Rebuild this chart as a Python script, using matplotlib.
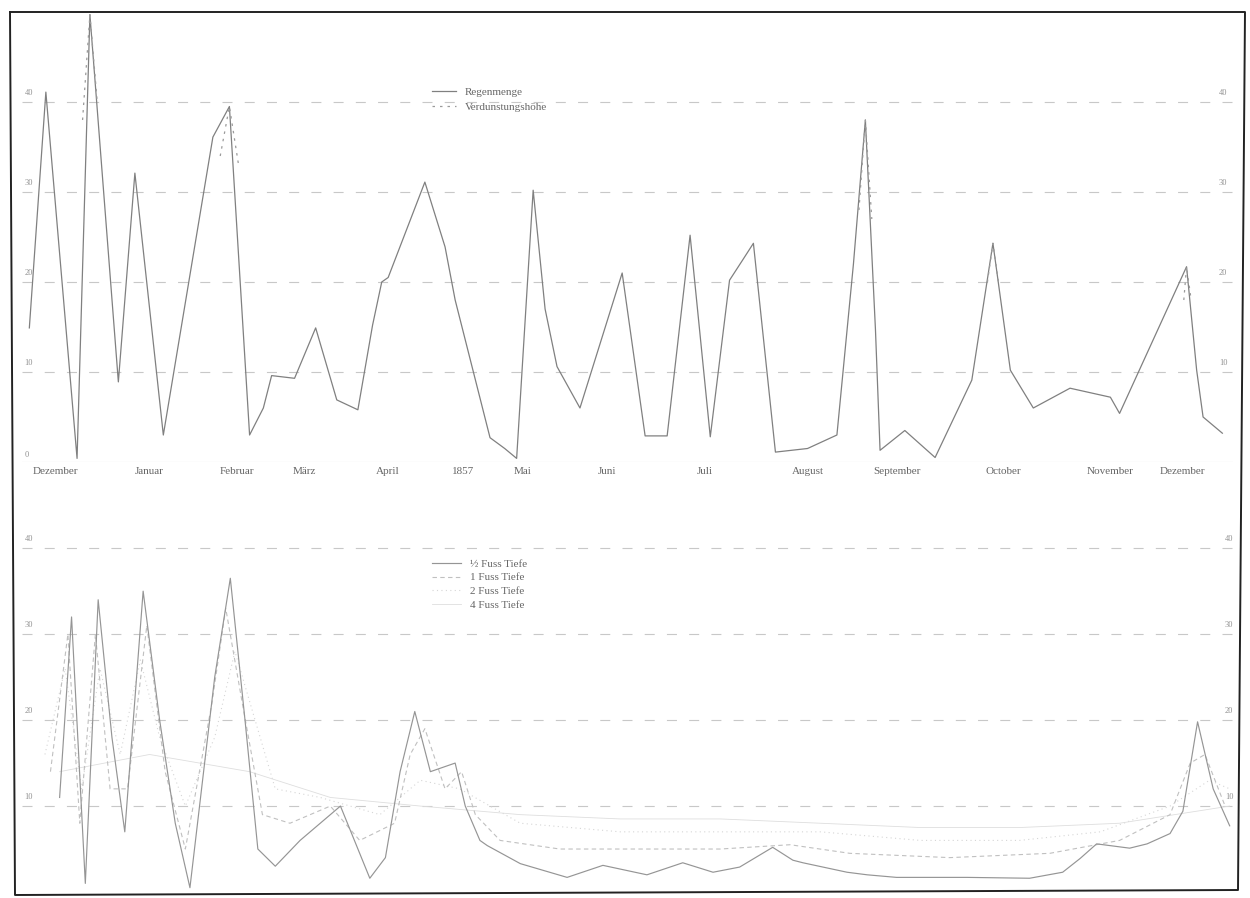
import matplotlib
matplotlib.use("Agg")
import matplotlib.pyplot as plt
from matplotlib.lines import Line2D

plt.rcParams['font.family'] = ['Liberation Serif', 'DejaVu Serif']

# Zeitachse in Monaten ab Anfang Dezember 1856
# Regenmenge (obere Tafel)
regen_t = [0.08, 0.26, 0.60, 0.74, 1.05, 1.23, 1.54, 2.08, 2.26, 2.48,
           2.63, 2.72, 2.97, 3.20, 3.43, 3.66, 3.82, 3.92, 3.99, 4.39,
           4.61, 4.72, 5.10, 5.26, 5.39, 5.57, 5.70, 5.83, 6.08, 6.54,
           6.79, 7.03, 7.28, 7.50, 7.71, 7.85, 7.97, 8.21, 8.56, 8.88,
           9.06, 9.19, 9.30, 9.35, 9.62, 9.95, 10.35, 10.58, 10.77, 11.02,
           11.42, 11.86, 11.96, 12.69, 12.80, 12.87, 13.08]
regen_v = [14.9, 41.1, 0.4, 49.7, 8.9, 32.1, 3.0, 36.1, 39.5, 3.0,
           6.0, 9.6, 9.3, 14.9, 6.9, 5.8, 15.2, 20.0, 20.5, 31.1,
           23.9, 18.0, 2.7, 1.5, 0.4, 30.2, 17.0, 10.6, 6.0, 21.0,
           2.9, 2.9, 25.2, 2.8, 20.2, 22.4, 24.3, 1.1, 1.5, 3.0,
           22.0, 38.0, 14.7, 1.3, 3.5, 0.5, 9.1, 24.3, 10.2, 6.0,
           8.2, 7.2, 5.4, 21.7, 10.2, 5.0, 3.2]

# Verdunstungshoehe: nur einzelne blass punktierte Spitzen erkennbar
verd_t = [[0.66, 0.74, 0.82], [2.16, 2.26, 2.36], [9.12, 9.19, 9.26],
          [10.52, 10.58, 10.64], [12.66, 12.69, 12.74]]
verd_v = [[38.0, 49.7, 40.0], [34.0, 39.5, 33.0], [28.0, 38.0, 27.0],
          [20.0, 24.3, 20.0], [18.0, 21.7, 18.0]]

# Bodentemperatur (untere Tafel)
half_t = [0.41, 0.54, 0.69, 0.83, 0.98, 1.12, 1.32, 1.50, 1.67, 1.83,
          2.10, 2.27, 2.43, 2.57, 2.76, 3.03, 3.47, 3.79, 3.96, 4.12,
          4.28, 4.45, 4.72, 4.83, 4.99, 5.07, 5.43, 5.94, 6.33, 6.81,
          7.20, 7.53, 7.82, 8.18, 8.40, 8.51, 8.99, 9.21, 9.53, 10.30,
          10.98, 11.34, 11.53, 11.71, 12.07, 12.26, 12.51, 12.65, 12.81, 12.98,
          13.16]
half_v = [11.0, 32.0, 1.0, 34.0, 18.0, 7.0, 35.0, 20.0, 8.0, 0.5,
          25.0, 36.5, 20.0, 5.0, 3.0, 6.0, 10.0, 1.6, 4.0, 14.0,
          21.0, 14.0, 15.0, 10.0, 6.0, 5.4, 3.3, 1.7, 3.1, 2.0,
          3.4, 2.3, 2.9, 5.2, 3.7, 3.4, 2.3, 2.0, 1.7, 1.7,
          1.6, 2.3, 3.9, 5.6, 5.1, 5.6, 6.8, 9.4, 19.8, 12.0,
          7.7]

one_t = [0.31, 0.50, 0.63, 0.80, 0.96, 1.15, 1.36, 1.56, 1.78, 2.07,
         2.22, 2.40, 2.62, 2.92, 3.36, 3.68, 4.06, 4.23, 4.39, 4.61,
         4.79, 4.94, 5.21, 5.86, 6.73, 7.61, 8.37, 9.02, 10.11, 11.20,
         11.96, 12.51, 12.73, 12.89, 13.11]
one_v = [14.0, 30.0, 8.0, 30.0, 12.0, 12.0, 31.0, 14.0, 5.0, 22.0,
         33.0, 22.0, 9.0, 8.0, 10.0, 6.0, 8.0, 16.0, 19.0, 12.0,
         14.0, 9.0, 6.0, 5.0, 5.0, 5.0, 5.5, 4.5, 4.0, 4.5,
         6.0, 9.0, 15.0, 16.0, 10.0]

two_t = [0.25, 0.47, 0.65, 0.85, 1.07, 1.29, 1.50, 1.78, 2.10, 2.32,
         2.54, 2.76, 3.25, 3.90, 4.34, 4.77, 5.43, 6.52, 7.61, 8.70,
         9.79, 10.87, 11.75, 12.51, 12.94, 13.16]
two_v = [16.0, 26.0, 12.0, 26.0, 16.0, 27.0, 18.0, 10.0, 18.0, 28.0,
         20.0, 12.0, 11.0, 9.0, 13.0, 12.0, 8.0, 7.0, 7.0, 7.0,
         6.0, 6.0, 7.0, 10.0, 13.0, 12.0]

four_t = [0.41, 1.39, 2.48, 3.36, 4.34, 5.43, 6.52, 7.61, 8.70, 9.79,
          10.87, 11.96, 13.16]
four_v = [14.0, 16.0, 14.0, 11.0, 10.0, 9.0, 8.5, 8.5, 8.0, 7.5,
          7.5, 8.0, 10.0]

month_t = [0.36, 1.39, 2.34, 3.08, 3.99, 4.81, 5.46, 6.37, 7.44, 8.56,
           9.53, 10.69, 11.86, 12.65]
month_lbl = ["Dezember", "Januar", "Februar", "März", "April", "1857", "Mai",
             "Juni", "Juli", "August", "September", "October", "November",
             "Dezember"]

grid_vals = [10, 20, 30, 40]

W, H = 1250, 898
fig = plt.figure(figsize=(W / 100, H / 100), dpi=100)
fig.patch.set_facecolor("white")

xmax = 13.2
ax_w = 13.2 * 91.77 / W
ax_top = fig.add_axes([22 / W, 1 - 462 / H, ax_w, 450 / H])
ax_bot = fig.add_axes([22 / W, 1 - 892 / H, ax_w, 361 / H])

for ax in (ax_top, ax_bot):
    ax.set_xlim(0, xmax)
    ax.axis("off")
    for g in grid_vals:
        ax.axhline(g, color="#c8c8c8", lw=0.8, dashes=(9, 11), zorder=1)

ax_top.set_ylim(0, 50)
ax_bot.set_ylim(0, 42)

# obere Tafel
ax_top.axhline(0, color="#d2d2d2", lw=0.8, zorder=1)
ax_top.plot(regen_t, regen_v, color="#808080", lw=0.9, zorder=3,
            clip_on=False, label="Regenmenge")
for i, (vt, vv) in enumerate(zip(verd_t, verd_v)):
    ax_top.plot(vt, vv, color="#9a9a9a", lw=0.9, ls=(0, (2, 4)), zorder=4,
                clip_on=False, label="Verdunstungshöhe" if i == 0 else None)
for t, lbl in zip(month_t, month_lbl):
    ax_top.text(t, -0.6, lbl, ha="center", va="top", fontsize=8,
                color="#666666")
ax_top.legend(loc="upper left", bbox_to_anchor=(0.33, 0.855), frameon=False,
              fontsize=8, handlelength=2.2, labelspacing=0.5,
              labelcolor="#666666")

# untere Tafel
ax_bot.plot(half_t, half_v, color="#959595", lw=0.85, zorder=4,
            clip_on=False, label="½ Fuss Tiefe")
ax_bot.plot(one_t, one_v, color="#c0c0c0", lw=0.8, ls=(0, (4, 3)),
            zorder=3, clip_on=False, label="1 Fuss Tiefe")
ax_bot.plot(two_t, two_v, color="#d6d6d6", lw=0.8, ls=(0, (1, 3)),
            zorder=2, clip_on=False, label="2 Fuss Tiefe")
ax_bot.plot(four_t, four_v, color="#dedede", lw=0.6, zorder=2,
            clip_on=False, label="4 Fuss Tiefe")
ax_bot.legend(loc="upper left", bbox_to_anchor=(0.33, 0.95), frameon=False,
              fontsize=8, handlelength=2.6, labelspacing=0.35,
              labelcolor="#666666")

# Skalenzahlen links und rechts
for ax, xr in ((ax_top, 0.995), (ax_bot, 1.0)):
    tr = ax.get_yaxis_transform()
    for g in grid_vals:
        ax.text(0.002, g + 0.6, str(g), transform=tr, fontsize=6,
                color="#909090", ha="left", va="bottom")
        ax.text(xr, g + 0.6, str(g), transform=tr, fontsize=6,
                color="#909090", ha="right", va="bottom")
ax_top.text(0.002, 0.3, "0", transform=ax_top.get_yaxis_transform(),
            fontsize=6, color="#909090", ha="left", va="bottom")

# Rahmen des Blattes
frame_x = [10, 1245, 1238, 15, 10]
frame_y = [12, 12, 890, 895, 12]
fig.add_artist(Line2D([x / W for x in frame_x], [1 - y / H for y in frame_y],
                      color="#222222", lw=1.4))

fig.savefig("out.png", dpi=100, facecolor="white")
